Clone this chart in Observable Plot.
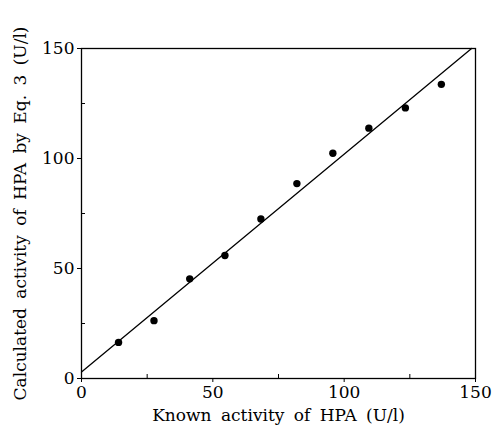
<!DOCTYPE html>
<html>
<head>
<meta charset="utf-8">
<script src="https://cdn.jsdelivr.net/npm/d3@7"></script>
<script src="https://cdn.jsdelivr.net/npm/@observablehq/plot@0.6"></script>
<style>
  html, body { margin: 0; padding: 0; background: white; }
</style>
</head>
<body>
<div id="chart"></div>
<script>
// Known activity (x) vs calculated activity by Eq. 3 (y), U/l
const knownActivity = [14.1, 27.6, 41.2, 54.6, 68.3, 82.0, 95.7, 109.4, 123.3, 137.0];
const calcActivity  = [16.4, 26.3, 45.3, 55.9, 72.5, 88.6, 102.4, 113.8, 123.0, 133.7];
// fitted line end points
const fitX = [0, 148.5];
const fitY = [2.9, 150];
const majorTicks = [0, 50, 100, 150];
const minorTicks = [25, 75, 125];
const xTitle = "Known activity of HPA (U/l)";
const yTitle = "Calculated activity of HPA by Eq. 3 (U/l)";

const points = knownActivity.map((x, i) => ({x, y: calcActivity[i]}));
const fit = fitX.map((x, i) => ({x, y: fitY[i]}));

const chart = Plot.plot({
  width: 495,
  height: 438,
  marginLeft: 81,
  marginRight: 20,
  marginTop: 48,
  marginBottom: 60,
  x: {domain: [0, 150]},
  y: {domain: [0, 150]},
  style: {fontFamily: "DejaVu Serif", fontSize: "17px", color: "black", background: "white", overflow: "visible"},
  marks: [
    Plot.frame({stroke: "black", strokeWidth: 1.3}),
    Plot.axisX(majorTicks, {anchor: "bottom", tickSize: 4, tickPadding: 3, tickFormat: d => String(d),
      label: xTitle, labelAnchor: "center", labelArrow: "none", labelOffset: 42}),
    Plot.axisX(minorTicks, {anchor: "bottom", tickSize: -4, tickFormat: () => "", label: null}),
    Plot.axisY(majorTicks, {anchor: "left", tickSize: 4, tickPadding: 3, tickFormat: d => String(d),
      label: yTitle, labelAnchor: "center", labelArrow: "none", labelOffset: 68}),
    Plot.axisY(minorTicks, {anchor: "left", tickSize: -4, tickFormat: () => "", label: null}),
    Plot.line(fit, {x: "x", y: "y", stroke: "black", strokeWidth: 1.3}),
    Plot.dot(points, {x: "x", y: "y", r: 3.7, fill: "black", stroke: "none"})
  ]
});

chart.querySelectorAll("text").forEach(t => t.setAttribute("font-family", "DejaVu Serif"));
chart.querySelectorAll('[aria-label="x-axis label"] text, [aria-label="y-axis label"] text')
  .forEach(t => { t.setAttribute("word-spacing", "4"); });

document.getElementById("chart").appendChild(chart);
</script>
</body>
</html>
